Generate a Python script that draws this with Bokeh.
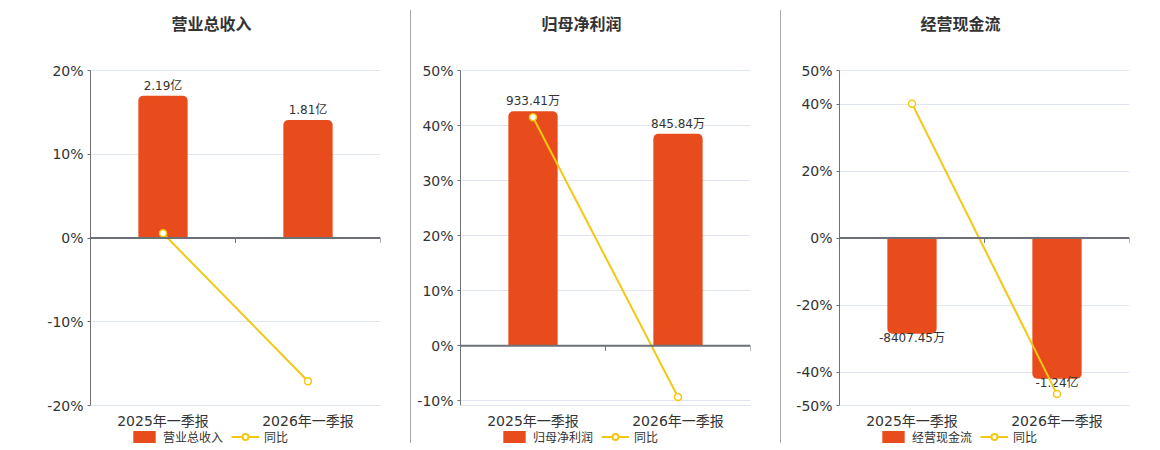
import math
from bokeh.plotting import figure
from bokeh.models import (Span, FixedTicker, PrintfTickFormatter, Legend, LegendItem,
                          Div, Range1d, Label)
from bokeh.layouts import row
from bokeh.core.properties import value
from bokeh.embed import file_html
from bokeh.resources import INLINE

# ---------------- data ----------------
categories = ["2025年一季报", "2026年一季报"]
yoy_name = "同比"

revenue_title = "营业总收入"
revenue_bar = [17.0, 14.1]
revenue_labels = ["2.19亿", "1.81亿"]
revenue_yoy = [0.56, -17.1]
revenue_ticks = [-20, -10, 0, 10, 20]
revenue_range = (-20, 20)

profit_title = "归母净利润"
profit_bar = [42.6, 38.5]
profit_labels = ["933.41万", "845.84万"]
profit_yoy = [41.5, -9.3]
profit_ticks = [-10, 0, 10, 20, 30, 40, 50]
profit_range = (-10.85, 50)

cash_title = "经营现金流"
cash_bar = [-28.6, -42.0]
cash_labels = ["-8407.45万", "-1.24亿"]
cash_yoy = [40.1, -46.6]
cash_ticks = [-50, -40, -20, 0, 20, 40, 50]
cash_range = (-50, 50)

# ---------------- style ----------------
FONT = "DejaVu Sans, Noto Sans CJK SC"
TITLE_FONT = "Noto Sans CJK SC"
BAR = "#E84C1D"
LINE = "#F2C811"
AXIS = "#6E7079"
GRID = "#E0E6F1"
TEXT = "#333333"
FIG_H = 450        # whole figure height (frame covers it vertically)
PLOT_TOP = 70      # pixel row of the top of the value area
PLOT_BOTTOM = 405  # pixel row of the bottom of the value area
FRAME_W = 290


def panel(title, vals, labels, yoy, ticks, yr, left, right):
    n = len(categories)
    xs = [i + 0.5 for i in range(n)]
    per_px = (yr[1] - yr[0]) / (PLOT_BOTTOM - PLOT_TOP)
    y_lo = yr[0] - per_px * (FIG_H - PLOT_BOTTOM)
    y_hi = yr[1] + per_px * PLOT_TOP
    p = figure(frame_width=FRAME_W, frame_height=FIG_H,
               min_border_left=left, min_border_right=right,
               min_border_top=0, min_border_bottom=0,
               x_range=Range1d(0, n), y_range=Range1d(y_lo, y_hi),
               output_backend="svg", toolbar_location=None)
    p.outline_line_color = None
    p.background_fill_color = "white"
    p.border_fill_color = "white"
    p.xaxis.visible = False

    # title
    p.add_layout(Label(x=81, y=FIG_H - 22, x_units="screen", y_units="screen",
                       text=title, text_align="left", text_baseline="middle",
                       text_font=TITLE_FONT, text_font_size="16px",
                       text_font_style="bold", text_color=TEXT))

    # y axis
    p.yaxis.bounds = yr
    p.yaxis.ticker = FixedTicker(ticks=ticks)
    p.yaxis.formatter = PrintfTickFormatter(format="%d%%")
    p.yaxis.axis_line_color = AXIS
    p.yaxis.major_tick_line_color = AXIS
    p.yaxis.major_tick_out = 3
    p.yaxis.major_tick_in = 0
    p.yaxis.minor_tick_line_color = None
    p.yaxis.major_label_standoff = 4
    p.yaxis.major_label_text_font = FONT
    p.yaxis.major_label_text_font_size = "14px"
    p.yaxis.major_label_text_color = TEXT
    p.ygrid.grid_line_color = GRID
    p.xgrid.grid_line_color = None

    # bottom border line of the value area
    p.add_layout(Span(location=yr[0], dimension="width", line_color=GRID, line_width=1))

    neg = all(v < 0 for v in vals)
    tops = [max(v, 0) for v in vals]
    bottoms = [min(v, 0) for v in vals]
    radius = (0, 0, 5, 5) if neg else (5, 5, 0, 0)
    bars = p.vbar(x=xs, top=tops, bottom=bottoms, width=0.34, fill_color=BAR,
                  line_color=None, border_radius=radius)

    # zero axis line and ticks
    p.add_layout(Span(location=0, dimension="width", line_color=AXIS, line_width=2))
    bounds = list(range(n + 1))
    p.ray(x=bounds, y=[0] * len(bounds), length=5, angle=-math.pi / 2,
          length_units="screen", line_color=AXIS, line_width=1)

    # category labels
    p.text(x=xs, y=[yr[0]] * n, text=categories, text_align="center",
           text_baseline="middle", y_offset=15, text_font=value(FONT),
           text_font_size="14px", text_color=TEXT)

    # value labels
    if neg:
        p.text(x=xs, y=bottoms, text=labels, text_align="center", text_baseline="top",
               y_offset=-3, text_font=value(FONT), text_font_size="12px", text_color=TEXT)
    else:
        p.text(x=xs, y=tops, text=labels, text_align="center", text_baseline="alphabetic",
               y_offset=-10, text_font=value(FONT), text_font_size="12px", text_color=TEXT)

    line = p.line(x=xs, y=yoy, line_color=LINE, line_width=2)
    p.scatter(x=xs, y=yoy, size=7, fill_color="white", line_color=LINE, line_width=1.5)
    # larger marker used only for the legend symbol
    legend_marker = p.scatter(x=xs, y=yoy, size=11, fill_color="white",
                              line_color=LINE, line_width=2, visible=False)

    legend = Legend(items=[LegendItem(label=title, renderers=[bars]),
                           LegendItem(label=yoy_name, renderers=[line, legend_marker])],
                    orientation="horizontal", location=(40, 5), padding=0, margin=0,
                    spacing=8, glyph_width=28, glyph_height=15, label_standoff=5,
                    label_text_font=FONT, label_text_font_size="12px",
                    label_text_color=TEXT, border_line_color=None,
                    background_fill_alpha=0, inactive_fill_alpha=0)
    p.add_layout(legend, "center")
    return p


p1 = panel(revenue_title, revenue_bar, revenue_labels, revenue_yoy,
           revenue_ticks, revenue_range, 90, 30)
p2 = panel(profit_title, profit_bar, profit_labels, profit_yoy,
           profit_ticks, profit_range, 49, 30)
p3 = panel(cash_title, cash_bar, cash_labels, cash_yoy,
           cash_ticks, cash_range, 58, 20)


def sep():
    return Div(text="", width=1, height=433, margin=(10, 0, 7, 0),
               styles={"background-color": "#AAAAAA"})


layout = row(p1, sep(), p2, sep(), p3)
open("out.html", "w").write(file_html(layout, INLINE))
